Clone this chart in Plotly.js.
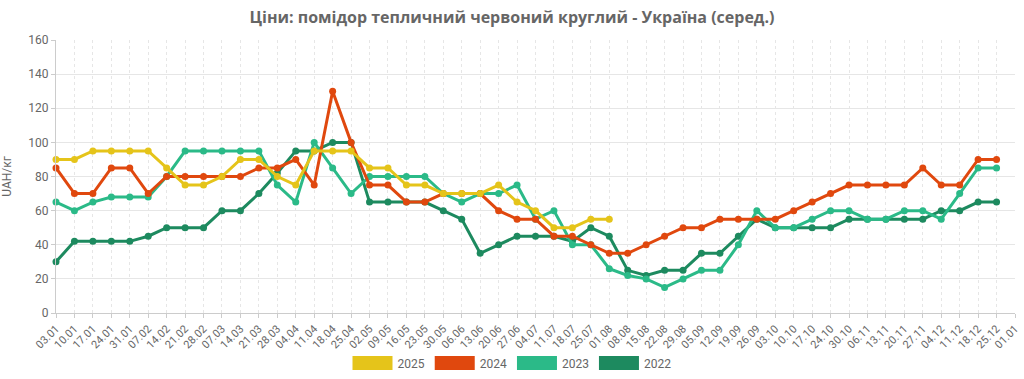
<!DOCTYPE html>
<html>
<head>
<meta charset="utf-8">
<script src="https://cdn.plot.ly/plotly-3.0.1.min.js"></script>
<style>html,body{margin:0;padding:0;background:#fff;}#chart{width:1024px;height:379px;}</style>
</head>
<body>
<div id="chart"></div>
<script>
const weeks = ["03.01","10.01","17.01","24.01","31.01","07.02","14.02","21.02","28.02","07.03","14.03","21.03","28.03","04.04","11.04","18.04","25.04","02.05","09.05","16.05","23.05","30.05","06.06","13.06","20.06","27.06","04.07","11.07","18.07","25.07","01.08","08.08","15.08","22.08","29.08","05.09","12.09","19.09","26.09","03.10","10.10","17.10","24.10","30.10","06.11","13.11","20.11","27.11","04.12","11.12","18.12","25.12","01.01"];

const y2025 = [90,90,95,95,95,95,85,75,75,80,90,90,80,75,95,95,95,85,85,75,75,70,70,70,75,65,60,50,50,55,55];
const y2024 = [85,70,70,85,85,70,80,80,80,80,80,85,85,90,75,130,100,75,75,65,65,70,70,70,60,55,55,45,45,40,35,35,40,45,50,50,55,55,55,55,60,65,70,75,75,75,75,85,75,75,90,90];
const y2023 = [65,60,65,68,68,68,80,95,95,95,95,95,75,65,100,85,70,80,80,80,80,70,65,70,70,75,55,60,40,40,26,22,20,15,20,25,25,40,60,50,50,55,60,60,55,55,60,60,55,70,85,85];
const y2022 = [30,42,42,42,42,45,50,50,50,60,60,70,82,95,95,100,100,65,65,65,65,60,55,35,40,45,45,45,42,50,45,25,22,25,25,35,35,45,55,50,50,50,50,55,55,55,55,55,60,60,65,65];

const seriesNames = ["2022","2023","2024","2025"];
const seriesValues = [y2022, y2023, y2024, y2025];
const seriesColors = ["#1d8a5f","#2bba88","#e0480e","#e5c41a"];

const traces = seriesValues.map((vals, i) => ({
  type: 'scatter',
  mode: 'lines+markers',
  name: seriesNames[i],
  x: weeks.slice(0, vals.length),
  y: vals,
  cliponaxis: false,
  line: {color: seriesColors[i], width: 3},
  marker: {color: seriesColors[i], size: 7},
  showlegend: false,
  legendgroup: seriesNames[i]
}));
// legend entries (symbols only)
seriesNames.forEach((n, i) => {
  traces.push({
    type: 'scatter', mode: 'lines', name: n, x: [null], y: [null],
    line: {color: seriesColors[i], width: 10},
    showlegend: true, legendgroup: n
  });
});

const layout = {
  width: 1024, height: 379,
  margin: {l: 56, r: 9, t: 40, b: 66, pad: 0},
  paper_bgcolor: '#fff', plot_bgcolor: '#fff',
  font: {family: 'Roboto, sans-serif', color: '#666', size: 12},
  title: {text: '<b>Ціни: помідор тепличний червоний круглий - Україна (серед.)</b>',
          font: {family: '"Open Sans", sans-serif', size: 16, color: '#666'},
          x: 0.5, xanchor: 'center', y: 0.955, yanchor: 'middle'},
  xaxis: {type: 'category', categoryarray: weeks, categoryorder: 'array',
          range: [0, weeks.length - 1], tickangle: -45, tickmode: 'array', tickvals: weeks,
          automargin: false,
          showgrid: true, gridcolor: '#e6e6e6', griddash: 'dot', gridwidth: 1,
          showline: true, linecolor: '#cccccc', linewidth: 1,
          ticks: 'outside', ticklen: 4, tickcolor: '#cccccc',
          tickfont: {size: 11, color: '#666'}, fixedrange: true, zeroline: false},
  yaxis: {range: [0, 160], tick0: 0, dtick: 20, automargin: false,
          title: {text: 'UAH/кг', font: {size: 12, color: '#666'}, standoff: 14},
          showgrid: true, gridcolor: '#e6e6e6', gridwidth: 1,
          showline: true, linecolor: '#cccccc', linewidth: 1,
          ticks: 'outside', ticklen: 4, tickcolor: '#cccccc',
          tickfont: {size: 12, color: '#666'}, zeroline: false, fixedrange: true},
  legend: {orientation: 'h', x: 0.5, xanchor: 'center', xref: 'container',
           y: 0.042, yanchor: 'middle', yref: 'container',
           traceorder: 'reversed', itemwidth: 40, font: {size: 12, color: '#666'},
           bgcolor: 'rgba(0,0,0,0)'},
  showlegend: true
};

Plotly.newPlot('chart', traces, layout, {displayModeBar: false, staticPlot: true}).then(() => {
  document.querySelectorAll('.legend .legendlines path').forEach(p => {
    p.style.strokeWidth = '14px';
    p.style.strokeLinecap = 'butt';
  });
});
</script>
</body>
</html>
